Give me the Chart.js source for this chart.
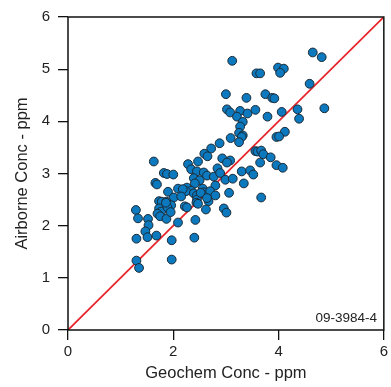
<!DOCTYPE html>
<html>
<head>
<meta charset="utf-8">
<script src="https://cdn.jsdelivr.net/npm/chart.js@4.4.0/dist/chart.umd.min.js"></script>
<style>
  body { margin: 0; background: #fff; }
  #wrap { position: relative; width: 391px; height: 387px; }
  #tag {
    position: absolute; right: 14px; top: 310px;
    font-family: "Liberation Sans", Arial, sans-serif;
    font-size: 13.5px; color: #222;
  }
</style>
</head>
<body>
<div id="wrap">
  <canvas id="myChart" width="391" height="387"></canvas>
  <div id="tag">09-3984-4</div>
</div>
<script>
// Geochem (x) vs Airborne (y) concentrations, ppm
var geochem = [
  3.12, 4.65, 4.82, 3.58, 3.65, 3.99, 4.10, 4.03, 4.59, 3.00,
  3.39, 3.75, 3.88, 3.92, 3.02, 3.08, 3.27, 3.21, 3.41, 3.56,
  3.79, 4.06, 4.36, 4.39, 4.87, 3.32, 3.27, 3.25, 3.32, 3.30,
  4.12, 3.96, 4.01, 3.09, 3.25, 2.88, 2.72, 2.59, 2.65, 3.56,
  3.60, 3.67, 3.71, 3.85, 3.65, 3.96, 4.08, 2.93, 3.08, 3.02,
  2.47, 2.28, 1.63, 2.34, 2.45, 2.58, 2.64, 2.77, 2.84, 2.89,
  1.82, 1.88, 2.00, 3.30, 3.46, 3.52, 3.34, 2.39, 2.50, 2.41,
  2.99, 3.13, 1.66, 1.69, 2.80, 2.09, 2.26, 2.34, 2.24, 2.18,
  1.90, 2.56, 2.58, 2.70, 2.39, 2.45, 2.01, 2.15, 3.06, 2.80,
  2.67, 3.67, 1.73, 1.78, 1.87, 1.96, 2.45, 2.44, 2.47, 2.22,
  2.26, 1.73, 1.77, 1.89, 1.29, 2.62, 2.96, 3.01, 1.70, 1.75,
  1.33, 1.52, 1.87, 2.42, 1.95, 2.52, 2.64, 1.86, 1.53, 2.09,
  1.47, 1.51, 1.68, 1.30, 1.97, 2.40, 1.30, 1.35, 1.97
];
var airborne = [
  5.16, 5.32, 5.23, 4.92, 4.92, 5.03, 5.01, 4.93, 4.72, 4.52,
  4.45, 4.52, 4.45, 4.44, 4.23, 4.17, 4.20, 4.09, 4.15, 4.22,
  4.09, 4.18, 4.23, 4.05, 4.25, 3.99, 3.90, 3.78, 3.73, 3.70,
  3.80, 3.70, 3.71, 3.68, 3.60, 3.58, 3.48, 3.38, 3.33, 3.43,
  3.42, 3.44, 3.37, 3.31, 3.21, 3.16, 3.11, 3.29, 3.25, 3.21,
  3.23, 3.18, 3.23, 3.08, 3.04, 3.02, 2.96, 2.94, 3.10, 3.01,
  3.01, 2.99, 2.98, 3.04, 3.06, 2.98, 2.81, 2.91, 2.87, 2.81,
  2.88, 2.90, 2.82, 2.79, 2.77, 2.71, 2.73, 2.67, 2.66, 2.70,
  2.65, 2.71, 2.64, 2.66, 2.62, 2.58, 2.54, 2.56, 2.63, 2.58,
  2.47, 2.54, 2.47, 2.46, 2.46, 2.39, 2.50, 2.44, 2.42, 2.37,
  2.35, 2.33, 2.27, 2.35, 2.30, 2.31, 2.33, 2.25, 2.23, 2.18,
  2.14, 2.13, 2.13, 2.11, 2.26, 2.63, 2.53, 2.44, 2.01, 2.06,
  1.89, 1.78, 1.81, 1.75, 1.72, 1.77, 1.33, 1.19, 1.35
];
// 1:1 reference line
var lineX = [0, 6];
var lineY = [0, 6];

var xMin = 0, xMax = 6, xStep = 2;
var yMin = 0, yMax = 6, yStep = 1;

var pts = [];
for (var i = 0; i < geochem.length; i++) {
  pts.push({x: geochem[i], y: airborne[i]});
}
var linePts = [];
for (var j = 0; j < lineX.length; j++) {
  linePts.push({x: lineX[j], y: lineY[j]});
}

var FONT = '"Liberation Sans", Arial, sans-serif';

// black box round the plot area
var frame = {
  id: 'frame',
  afterDatasetsDraw: function(chart) {
    var a = chart.chartArea, c = chart.ctx;
    c.save();
    c.strokeStyle = '#111';
    c.lineWidth = 1.5;
    c.strokeRect(a.left, a.top, a.right - a.left, a.bottom - a.top);
    c.restore();
  }
};

new Chart("myChart", {
  type: "scatter",
  data: {
    datasets: [{
      data: pts,
      order: 1,
      pointRadius: 4.4,
      pointBackgroundColor: "#0c78bd",
      pointBorderColor: "#1a2a36",
      pointBorderWidth: 1
    }, {
      type: "line",
      data: linePts,
      order: 2,
      borderColor: "#e8242b",
      borderWidth: 1.8,
      pointRadius: 0,
      fill: false
    }]
  },
  plugins: [frame],
  options: {
    responsive: false,
    animation: false,
    events: [],
    layout: { padding: { left: 0, top: 14, right: 7, bottom: 0 } },
    plugins: { legend: { display: false }, tooltip: { enabled: false } },
    scales: {
      x: {
        type: "linear", min: xMin, max: xMax,
        afterFit: function(s) { s.height = 57; },
        border: { display: false },
        grid: { drawOnChartArea: false, tickLength: 10, color: "#111", lineWidth: 1.3 },
        ticks: { stepSize: xStep, padding: 3, color: "#222", font: { family: FONT, size: 15 } },
        title: { display: true, text: "Geochem Conc - ppm", color: "#222",
                 font: { family: FONT, size: 16.5 }, padding: { top: 0, bottom: 4 } }
      },
      y: {
        type: "linear", min: yMin, max: yMax,
        afterFit: function(s) { s.width = 68; },
        border: { display: false },
        grid: { drawOnChartArea: false, tickLength: 10, color: "#111", lineWidth: 1.3 },
        ticks: { stepSize: yStep, padding: 8, color: "#222", font: { family: FONT, size: 15 } },
        title: { display: true, text: "Airborne Conc - ppm", color: "#222",
                 font: { family: FONT, size: 16.5 }, padding: { top: 13, bottom: 0 } }
      }
    }
  }
});
</script>
</body>
</html>
